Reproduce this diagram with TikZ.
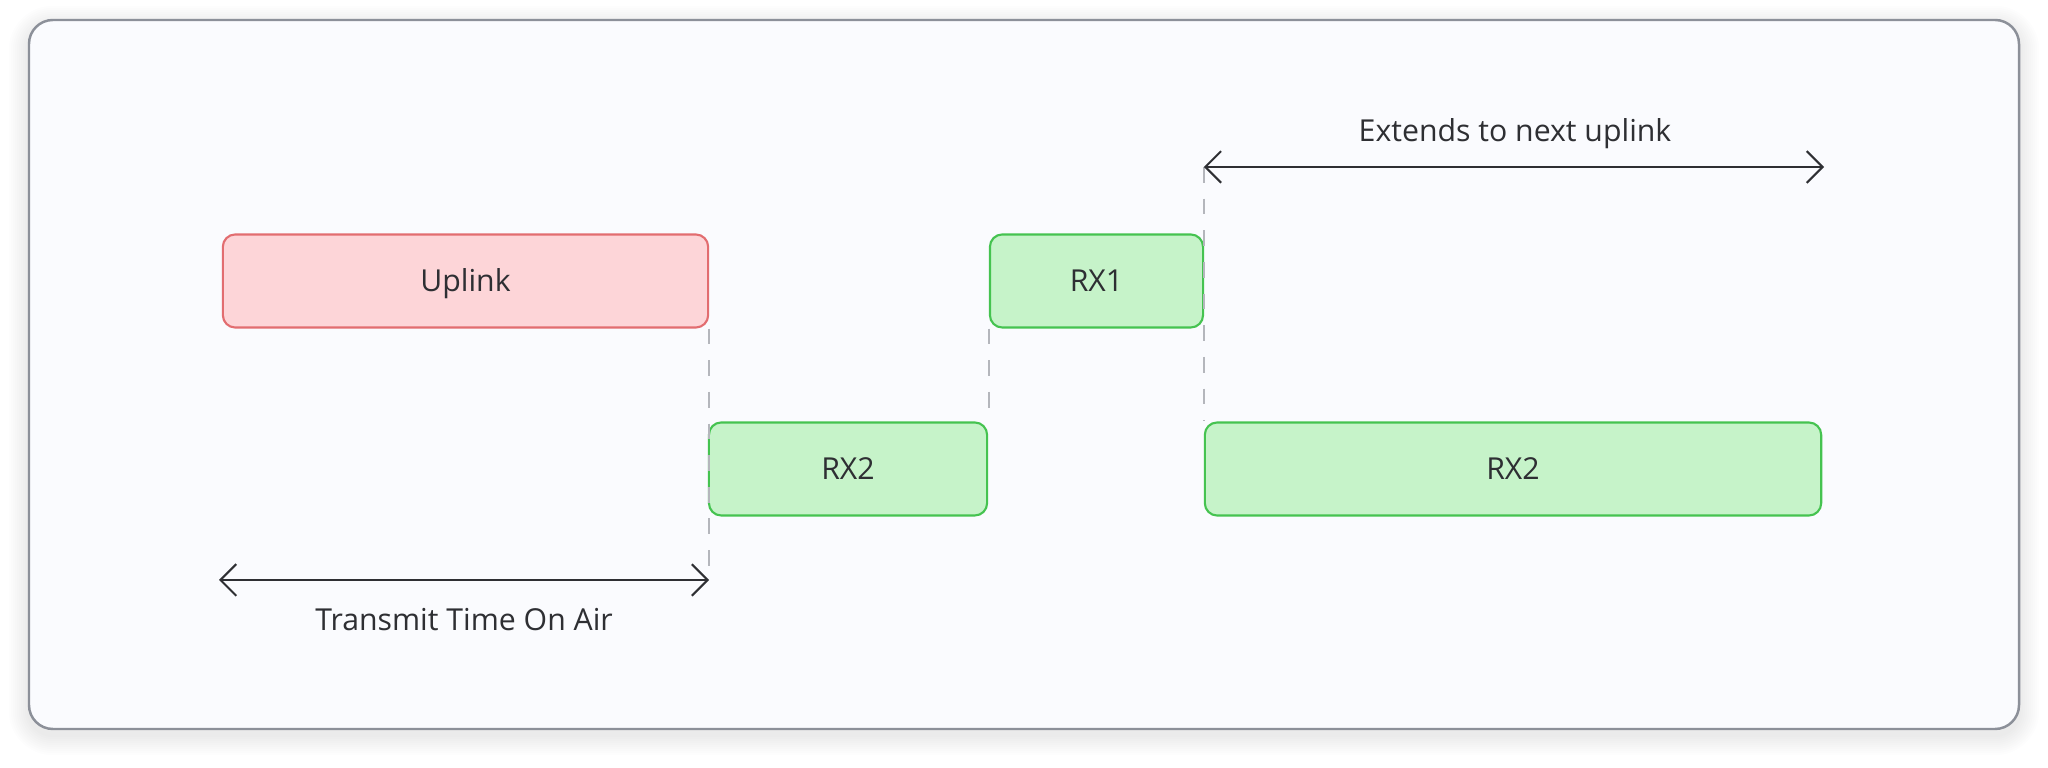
\documentclass[tikz,border=0pt]{standalone}
\usepackage{fontspec}
\setmainfont{Open Sans}
\usepackage{xcolor}
\usetikzlibrary{positioning,arrows.meta,calc}
\definecolor{framefill}{HTML}{FAFBFE}
\definecolor{framedraw}{HTML}{8C9099}
\definecolor{upfill}{HTML}{FDD5D8}
\definecolor{updraw}{HTML}{E26D70}
\definecolor{rxfill}{HTML}{C6F3C9}
\definecolor{rxdraw}{HTML}{45C350}
\definecolor{guide}{HTML}{B4B6BC}
\definecolor{ink}{HTML}{2E2F33}
\definecolor{haze}{HTML}{6E7790}
\tikzset{
   slot/.style={
      draw, rounded corners=3.5pt, line width=0.6pt,
      minimum height=0.93cm, inner sep=0pt,
      text height=6.1pt, text depth=0pt,
      text=ink, font=\fontsize{8.6}{10}\selectfont},
   uplink slot/.style={slot, fill=upfill, draw=updraw},
   rx slot/.style={slot, fill=rxfill, draw=rxdraw},
   guide line/.style={draw=guide, line width=0.6pt, dash pattern=on 4.5pt off 4.5pt},
   span/.style={draw=ink, line width=0.6pt,
      {Straight Barb[length=4.5pt,width=9pt]}-{Straight Barb[length=4.5pt,width=9pt]}},
   span label/.style={text=ink, font=\fontsize{8.6}{10}\selectfont}
}
\begin{document}
\begin{tikzpicture}[x=0.01cm, y=-0.01cm]
    \useasboundingbox (0,0) rectangle (2048,768);
    % Panel behind the timeline, with a soft shadow
    \fill[white] (0,0) rectangle (2048,768);
    \foreach \s in {2,4,...,20}
      \fill[haze, opacity=0.012, rounded corners=6.8pt+\s*0.28pt]
        (29-\s,20-\s+6) rectangle (2019+\s,729+\s+6);
    \path[fill=framefill, draw=framedraw, line width=0.7pt, rounded corners=6.8pt]
      (29,20) rectangle (2019,729);

    % Transmit and receive windows
    \node[uplink slot, minimum width=4.85cm] (uplink) at (465.5,281) {Uplink};
    \node[rx slot, minimum width=2.78cm] (rx2a) at (848,469) {RX2};
    \node[rx slot, minimum width=2.13cm] (rx1) at (1096.5,281) {RX1};
    \node[rx slot, minimum width=6.16cm] (rx2b) at (1513,469) {RX2};

    % Ends of the two spans
    \coordinate (toa start) at (219,580);
    \coordinate (toa end) at (uplink.south east |- toa start);
    \coordinate (next start) at (rx2b.north west |- 0,167);
    \coordinate (next end) at (1824,167);

    % Dashed guides between the windows
    \draw[guide line] (uplink.south east) -- (toa end);
    \draw[guide line] (rx1.south west) -- (rx1.south west |- rx2a.north);
    \draw[guide line] (next start) -- (rx2b.north west);

    % Spans with their labels
    \draw[span] (toa start) -- (toa end);
    \node[span label, below=0.16cm of $(toa start)!0.5!(toa end)$] (toa label) {Transmit Time On Air};
    \draw[span] (next start) -- (next end);
    \node[span label] (next label) at (1515,134) {Extends to next uplink};
\end{tikzpicture}
\end{document}
